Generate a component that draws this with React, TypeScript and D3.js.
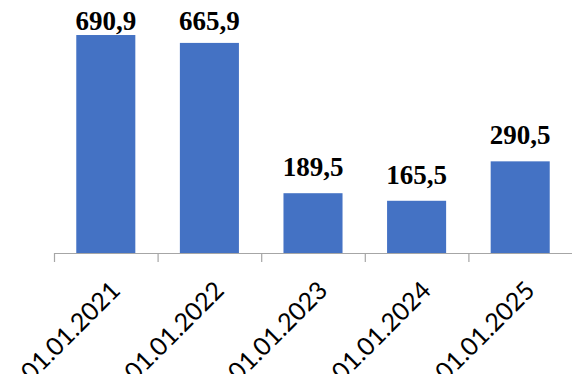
import React from "react";
import * as d3 from "d3";

const categories = ["01.01.2021", "01.01.2022", "01.01.2023", "01.01.2024", "01.01.2025"];
const values = [690.9, 665.9, 189.5, 165.5, 290.5];
const valueLabels = ["690,9", "665,9", "189,5", "165,5", "290,5"];

const W = 576;
const H = 374;
const baseY = 253;

export default function App() {
  const x = d3.scaleBand<string>().domain(categories).range([54, 572]).paddingInner(0.43).paddingOuter(0.215);
  const y = d3.scaleLinear().domain([0, 800]).range([baseY, 0.6]);
  const step = x.step();
  const boundaries = categories.map((_, i) => 54 + i * step);

  return (
    <div style={{ position: "absolute", left: 0, top: 0 }}>
      <svg width={W} height={H} style={{ display: "block", background: "#fff" }}>
        {categories.map((c, i) => (
          <rect key={c} x={x(c)} y={y(values[i])} width={x.bandwidth()} height={baseY - y(values[i])} fill="#4472C4" />
        ))}
        <line x1={54} x2={572} y1={baseY + 0.5} y2={baseY + 0.5} stroke="#A6A6A6" strokeWidth={1.2} />
        {boundaries.map((b, i) => (
          <line key={i} x1={b + 0.5} x2={b + 0.5} y1={baseY} y2={baseY + 9} stroke="#A6A6A6" strokeWidth={1.2} />
        ))}
        {categories.map((c, i) => {
          const cx = (x(c) as number) + x.bandwidth() / 2;
          const ly = Math.max(y(values[i]) - 17, 30);
          return (
            <text key={"v" + c} x={cx} y={ly} textAnchor="middle" fontFamily="'Liberation Serif', 'Times New Roman', serif" fontWeight="bold" fontSize={27} fill="#000">
              {valueLabels[i]}
            </text>
          );
        })}
        {categories.map((c, i) => {
          const cx = (x(c) as number) + x.bandwidth() / 2;
          const tx = cx + 16;
          const ty = baseY + 39;
          return (
            <g key={"c" + c} transform={`translate(${tx},${ty}) rotate(-45)`}>
              <text x={0} y={0} textAnchor="end" fontFamily="Lato, 'Open Sans', sans-serif" fontSize={25} fill="#000">
                {c}
              </text>
            </g>
          );
        })}
      </svg>
    </div>
  );
}
